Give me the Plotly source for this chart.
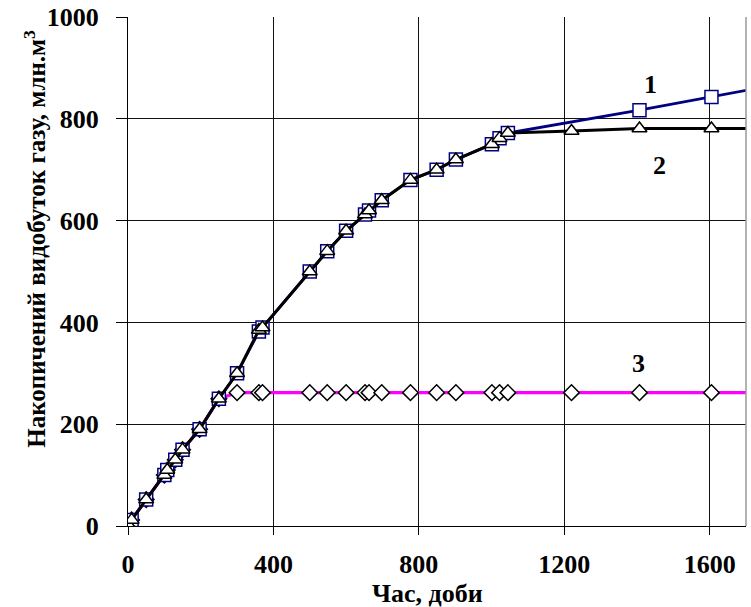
import plotly.graph_objects as go

# time, days
days = [0, 10, 50, 100, 108, 130, 150, 197, 250, 300, 360, 370, 500, 548, 600,
        652, 663, 698, 777, 849, 902, 1001, 1022, 1045]

# curve 1 (squares)
days_1 = days + [1407, 1605, 1800]
gas_1 = [3, 12, 52, 100, 110, 130, 150, 190, 250, 300, 382, 390, 500, 540, 580,
         612, 620, 640, 680, 700, 720, 750, 762, 772, 817, 843, 869]

# curve 2 (triangles)
days_2 = days + [1220, 1407, 1605, 1800]
gas_2 = [3, 12, 52, 100, 110, 130, 150, 190, 250, 300, 385, 390, 500, 540, 580,
         612, 620, 640, 680, 700, 720, 750, 762, 772, 776, 781, 781, 781]

# curve 3 (diamonds)
days_3 = days + [1220, 1407, 1605, 1800]
gas_3 = [3, 12, 52, 100, 110, 130, 150, 190, 250, 262, 262, 262, 262, 262, 262,
         262, 262, 262, 262, 262, 262, 262, 262, 262, 262, 262, 262, 262]

x_ticks = [0, 400, 800, 1200, 1600]
y_ticks = [0, 200, 400, 600, 800, 1000]

FONT = "Liberation Serif"

fig = go.Figure()
fig.add_trace(go.Scatter(
    x=days_3, y=gas_3, mode="lines+markers",
    line=dict(color="#FF00FF", width=3.2),
    marker=dict(symbol="diamond", size=12, color="white",
                line=dict(color="black", width=1.5)),
    showlegend=False))
fig.add_trace(go.Scatter(
    x=days_1, y=gas_1, mode="lines+markers",
    line=dict(color="#000080", width=2.8),
    marker=dict(symbol="square", size=13, color="white",
                line=dict(color="#000080", width=1.5)),
    showlegend=False))
fig.add_trace(go.Scatter(
    x=days_2, y=gas_2, mode="lines+markers",
    line=dict(color="black", width=3),
    marker=dict(symbol="triangle-up", size=13, color="white",
                line=dict(color="black", width=1.5)),
    showlegend=False))

fig.update_layout(
    template="none",
    width=751, height=607,
    margin=dict(l=128, r=4.5, t=17, b=81, pad=0),
    paper_bgcolor="white", plot_bgcolor="white",
    font=dict(family=FONT, size=26, color="black"),
    xaxis=dict(range=[0, 1700], tickvals=x_ticks, showgrid=True,
               gridcolor="#111111", gridwidth=1, zeroline=False,
               showline=True, linecolor="black", linewidth=1,
               ticks="outside", ticklen=8, tickcolor="black", tickwidth=1,
               ticklabelstandoff=7, automargin=False,
               tickfont=dict(family=FONT, size=26, color="black", weight="bold")),
    yaxis=dict(range=[0, 1000], tickvals=y_ticks, showgrid=True,
               gridcolor="#111111", gridwidth=1, zeroline=False,
               showline=True, linecolor="black", linewidth=1,
               ticks="outside", ticklen=11, tickcolor="black", tickwidth=1,
               ticklabelstandoff=12, automargin=False,
               tickfont=dict(family=FONT, size=26, color="black", weight="bold")),
)

# right frame edge
fig.add_shape(type="line", xref="paper", yref="paper", x0=1, x1=1, y0=0, y1=1,
              line=dict(color="#999999", width=1.5))

fig.add_annotation(text="<b>Час, доби</b>", xref="paper", yref="paper",
                   x=0.485, y=-0.132, yanchor="middle", showarrow=False,
                   font=dict(family=FONT, size=26, color="black"))
fig.add_annotation(text="<b>Накопичений видобуток газу, млн.м<sup>3</sup></b>",
                   xref="paper", yref="paper", textangle=-90,
                   x=-0.15, xanchor="center", y=0.565, yanchor="middle",
                   showarrow=False,
                   font=dict(family=FONT, size=25, color="black"))

for lbl, lx, ly in [("1", 1437, 867), ("2", 1462, 708), ("3", 1404, 319)]:
    fig.add_annotation(text="<b>" + lbl + "</b>", x=lx, y=ly, showarrow=False,
                       font=dict(family=FONT, size=26, color="black"))

fig.write_html("out.html", config={"displayModeBar": False},
               post_script="document.body.style.margin='0px';"
                           "document.body.style.padding='0px';")
